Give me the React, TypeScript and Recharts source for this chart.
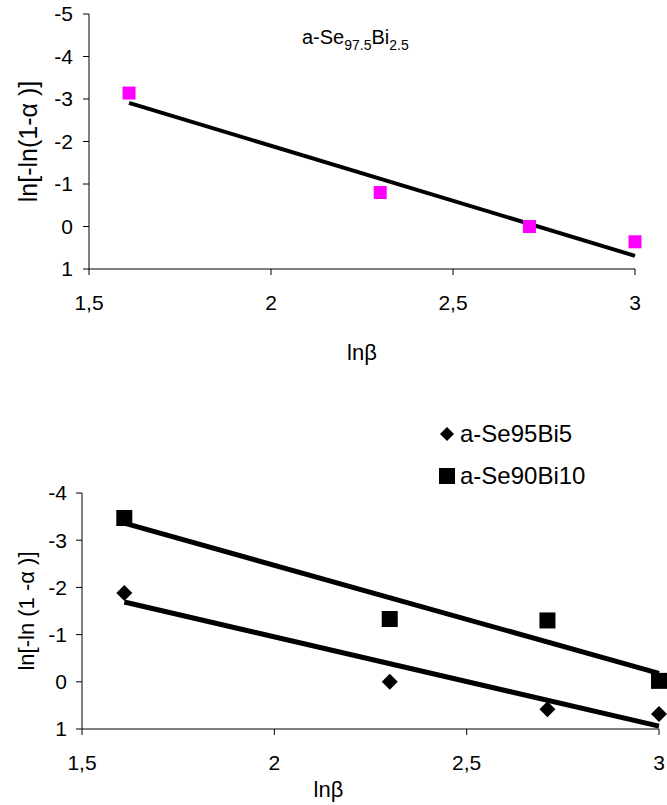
import { ComposedChart, Scatter, Line, XAxis, YAxis, Label, Legend } from 'recharts';

// ln(beta) for heating rates 5, 10, 15, 20 K/min
const lnBeta = [1.61, 2.3, 2.71, 3.0];

// ln[-ln(1-alpha)]
const seBi25 = [-3.14, -0.8, 0.0, 0.36];
const seBi5 = [-1.88, 0.0, 0.58, 0.68];
const seBi10 = [-3.47, -1.33, -1.3, -0.02];

// linear fits, ends at first and last lnBeta
const fitX = [1.61, 3.0];
const fitBi25 = [-2.91, 0.69];
const fitBi5 = [-1.69, 0.94];
const fitBi10 = [-3.36, -0.18];

const xTicks = [1.5, 2, 2.5, 3];
const yTicksTop = [-5, -4, -3, -2, -1, 0, 1];
const yTicksBottom = [-4, -3, -2, -1, 0, 1];

const FONT = '"Liberation Sans", Arial, sans-serif';

const toPoints = (xs: number[], ys: number[]) => xs.map((x, i) => ({ x, y: ys[i] }));

const commaTick = (v: number) => String(v).replace('.', ',');

const squareShape = (size: number, color: string) => (props: any) => (
  <rect x={props.cx - size / 2} y={props.cy - size / 2} width={size} height={size} fill={color} />
);

const diamondShape = (size: number, color: string) => (props: any) => {
  const h = size / 2;
  const { cx, cy } = props;
  return <polygon points={`${cx},${cy - h} ${cx + h},${cy} ${cx},${cy + h} ${cx - h},${cy}`} fill={color} />;
};

const tickStyle = { fill: '#000', fontSize: 21, fontFamily: FONT };

function BottomLegend() {
  const row = { display: 'flex', alignItems: 'center', height: 42 };
  return (
    <div style={{ fontFamily: FONT, fontSize: 24, color: '#000' }}>
      <div style={row}>
        <svg width={18} height={18} style={{ marginRight: 4 }}>
          <polygon points="9,2 16,9 9,16 2,9" fill="#000" />
        </svg>
        <span>a-Se95Bi5</span>
      </div>
      <div style={row}>
        <svg width={18} height={18} style={{ marginRight: 4 }}>
          <rect x={1} y={1} width={16} height={16} fill="#000" />
        </svg>
        <span>a-Se90Bi10</span>
      </div>
    </div>
  );
}

export default function App() {
  return (
    <div style={{ position: 'absolute', left: 0, top: 0, width: 667, height: 805, background: '#fff' }}>
      <div style={{ position: 'absolute', left: 0, top: 0 }}>
        <ComposedChart width={667} height={385} margin={{ top: 14, right: 32, bottom: 25, left: 0 }}>
          <XAxis
            type="number"
            dataKey="x"
            domain={[1.5, 3]}
            ticks={xTicks}
            interval={0}
            tickFormatter={commaTick}
            tick={tickStyle}
            tickSize={6}
            tickMargin={20}
            axisLine={{ stroke: '#000' }}
            tickLine={{ stroke: '#000' }}
            height={91}
          >
            <Label value="lnβ" position="insideBottom" offset={0} fill="#000" fontSize={22} fontFamily={FONT} />
          </XAxis>
          <YAxis
            type="number"
            dataKey="y"
            domain={[-5, 1]}
            ticks={yTicksTop}
            interval={0}
            reversed
            tick={tickStyle}
            tickSize={6}
            tickMargin={10}
            axisLine={{ stroke: '#000' }}
            tickLine={{ stroke: '#000' }}
            width={89}
          >
            <Label value="ln[-ln(1-α )]" position="center" angle={-90} dx={-16} fill="#000" fontSize={25} fontFamily={FONT} />
          </YAxis>
          <Scatter
            name="a-Se97.5Bi2.5"
            data={toPoints(lnBeta, seBi25)}
            dataKey="y"
            shape={squareShape(13, '#FF00FF')}
            isAnimationActive={false}
          />
          <Line
            data={toPoints(fitX, fitBi25)}
            dataKey="y"
            stroke="#000"
            strokeWidth={4}
            dot={false}
            legendType="none"
            isAnimationActive={false}
          />
        </ComposedChart>
      </div>

      <div style={{ position: 'absolute', left: 302, top: 27, fontFamily: FONT, fontSize: 20, lineHeight: '20px', color: '#000', whiteSpace: 'nowrap' }}>
        a-Se<span style={{ fontSize: 14, position: 'relative', top: 6 }}>97.5</span>Bi
        <span style={{ fontSize: 14, position: 'relative', top: 6 }}>2.5</span>
      </div>

      <div style={{ position: 'absolute', left: 0, top: 385 }}>
        <ComposedChart width={667} height={420} margin={{ top: 108, right: 8, bottom: 8, left: 0 }}>
          <XAxis
            type="number"
            dataKey="x"
            domain={[1.5, 3]}
            ticks={xTicks}
            interval={0}
            tickFormatter={commaTick}
            tick={tickStyle}
            tickSize={6}
            tickMargin={20}
            axisLine={{ stroke: '#000' }}
            tickLine={{ stroke: '#000' }}
            height={68}
          >
            <Label value="lnβ" position="insideBottom" offset={0} dx={-42} fill="#000" fontSize={22} fontFamily={FONT} />
          </XAxis>
          <YAxis
            type="number"
            dataKey="y"
            domain={[-4, 1]}
            ticks={yTicksBottom}
            interval={0}
            reversed
            tick={tickStyle}
            tickSize={6}
            tickMargin={9}
            axisLine={{ stroke: '#000' }}
            tickLine={{ stroke: '#000' }}
            width={82}
          >
            <Label value="ln[-ln (1 -α )]" position="center" angle={-90} dx={-15} fill="#000" fontSize={22} fontFamily={FONT} />
          </YAxis>
          <Legend
            layout="vertical"
            align="center"
            verticalAlign="middle"
            wrapperStyle={{ top: 28, left: 438, width: 220 }}
            content={() => <BottomLegend />}
          />
          <Scatter
            name="a-Se95Bi5"
            data={toPoints(lnBeta, seBi5)}
            dataKey="y"
            shape={diamondShape(16, '#000')}
            isAnimationActive={false}
          />
          <Scatter
            name="a-Se90Bi10"
            data={toPoints(lnBeta, seBi10)}
            dataKey="y"
            shape={squareShape(16, '#000')}
            isAnimationActive={false}
          />
          <Line
            data={toPoints(fitX, fitBi5)}
            dataKey="y"
            stroke="#000"
            strokeWidth={5}
            dot={false}
            legendType="none"
            isAnimationActive={false}
          />
          <Line
            data={toPoints(fitX, fitBi10)}
            dataKey="y"
            stroke="#000"
            strokeWidth={5}
            dot={false}
            legendType="none"
            isAnimationActive={false}
          />
        </ComposedChart>
      </div>
    </div>
  );
}
